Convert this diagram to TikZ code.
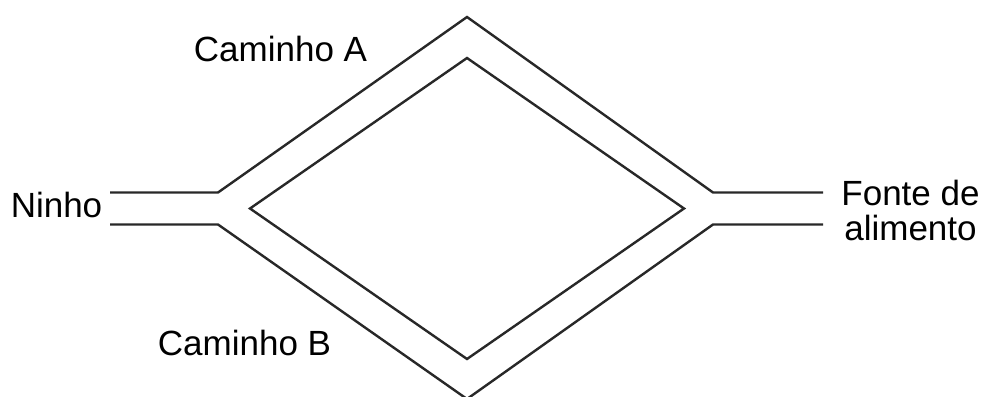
\documentclass[tikz,border=0pt]{standalone}
\usepackage{fontspec}
\setmainfont{Liberation Sans}
\definecolor{PathGray}{RGB}{40,40,40}
\usetikzlibrary{positioning}

\begin{document}
\begin{tikzpicture}[x=1pt,y=-1pt,
    trail/.style={draw=PathGray,line width=2.4pt,line join=miter},
    lbl/.style={font=\fontsize{35}{35}\selectfont,anchor=base,inner sep=0pt,align=center}]
  \useasboundingbox (0,0) rectangle (984,396);
  %% Outer walls
  \coordinate (nestT) at (110,192.5);
  \coordinate (nestB) at (110,224.5);
  \coordinate (splitT) at (218,192.5);
  \coordinate (splitB) at (218,224.5);
  \coordinate (top) at (467,17);
  \coordinate (bot) at (467,399);
  \coordinate (joinT) at (713,192.5);
  \coordinate (joinB) at (713,224.5);
  \coordinate (foodT) at (823,192.5);
  \coordinate (foodB) at (823,224.5);
  \draw[trail] (nestT) -- (splitT) -- (top) -- (joinT) -- (foodT);
  \draw[trail] (nestB) -- (splitB) -- (bot) -- (joinB) -- (foodB);
  %% Inner island
  \coordinate (inL) at (250,208.5);
  \coordinate (inT) at (467,58);
  \coordinate (inR) at (684,208.5);
  \coordinate (inB) at (467,359);
  \draw[trail] (inL) -- (inT) -- (inR) -- (inB) -- cycle;
  %% Labels
  \node[lbl] (pathA) at (280.5,61) {Caminho A};
  \node[lbl] (pathB) at (244.5,355) {Caminho B};
  \node[lbl] (nest) at (56.5,217) {Ninho};
  \node[lbl,anchor=north] (food) at (910.5,180) {Fonte de\\alimento};
\end{tikzpicture}
\end{document}
